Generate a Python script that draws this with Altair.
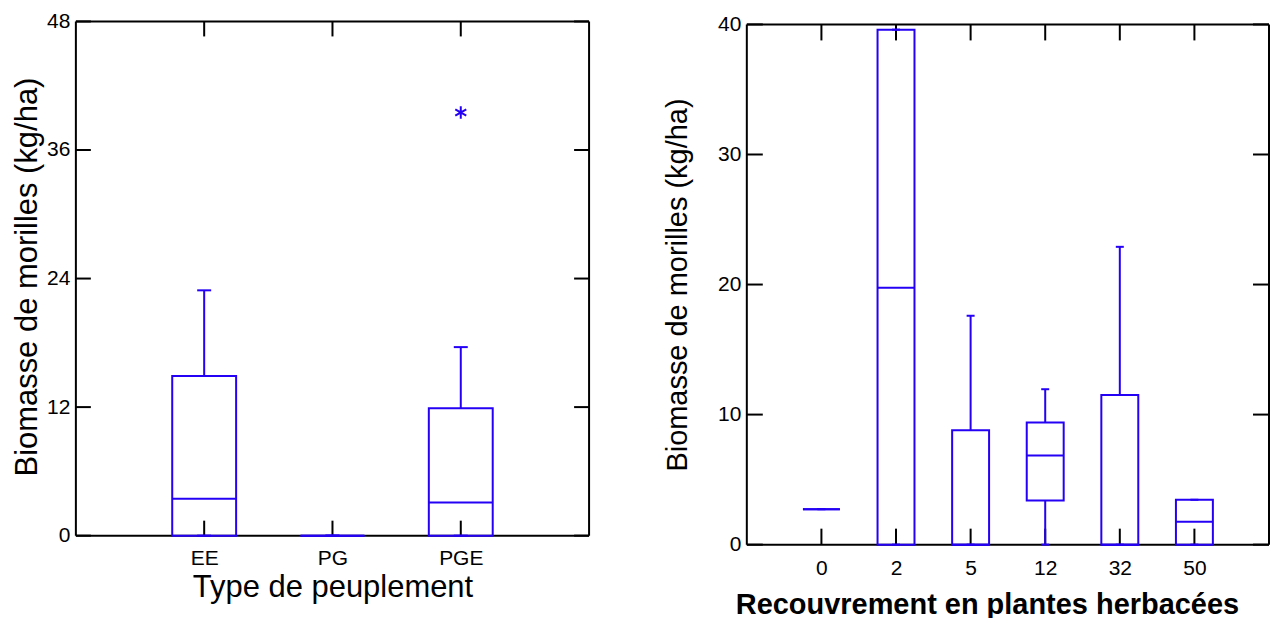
import altair as alt
import pandas as pd

BLUE = "#2400F5"
FONT = "Liberation Sans"

# ---------------- Left panel data ----------------
left_cats = ["EE", "PG", "PGE"]
left_min = [0.0, 0.0, 0.0]
left_q1 = [0.0, 0.0, 0.0]
left_med = [3.45, 0.0, 3.1]
left_q3 = [14.9, 0.0, 11.9]
left_max = [22.9, 0.0, 17.6]
left_out_cat = ["PGE"]
left_out_val = [39.5]
left_yticks = [0, 12, 24, 36, 48]

# ---------------- Right panel data ----------------
right_cats = ["0", "2", "5", "12", "32", "50"]
right_min = [2.73, 0.0, 0.0, 0.0, 0.0, 0.0]
right_q1 = [2.73, 0.0, 0.0, 3.4, 0.0, 0.0]
right_med = [2.73, 19.75, 0.0, 6.85, 0.0, 1.75]
right_q3 = [2.73, 39.6, 8.8, 9.4, 11.5, 3.45]
right_max = [2.73, 39.6, 17.6, 11.95, 22.9, 3.45]
right_out_cat = []
right_out_val = []
right_yticks = [0, 10, 20, 30, 40]

ASTERISK = "M0,-1L0,1M-0.87,-0.5L0.87,0.5M-0.87,0.5L0.87,-0.5"


def panel(cats, mins, q1s, meds, q3s, maxs, out_c, out_v, yticks, ymax,
          W, H, top_gap, box_w, cap_w, tick_len, xtitle, ytitle,
          lab_fs, x_lab_pad, y_lab_pad, x_title_fs, y_title_fs,
          x_title_pad, y_title_pad, x_title_weight, x_title_shift=0,
          y_title_shift=0):
    df = pd.DataFrame({"cat": cats, "lo": mins, "q1": q1s, "med": meds,
                       "q3": q3s, "hi": maxs})
    xscale = alt.Scale(type="point", padding=1, domain=cats)
    yscale = alt.Scale(domain=[0, ymax], nice=False, zero=True,
                       range=[H, top_gap])
    xaxis_kw = dict(title=xtitle, labelAngle=0, labelFontSize=lab_fs,
                    labelPadding=x_lab_pad, titleFontSize=x_title_fs,
                    titlePadding=x_title_pad, titleFontWeight=x_title_weight,
                    domain=False, ticks=False, tickSize=0, grid=False)
    if x_title_shift:
        xaxis_kw["titleX"] = W / 2 + x_title_shift
    xaxis = alt.Axis(**xaxis_kw)
    yaxis_kw = dict(title=ytitle, values=yticks, labelFontSize=lab_fs,
                    labelPadding=y_lab_pad, titleFontSize=y_title_fs,
                    titlePadding=y_title_pad, titleFontWeight="normal",
                    domain=False, ticks=False, tickSize=0, grid=False)
    if y_title_shift:
        yaxis_kw["titleY"] = (H + top_gap) / 2 + y_title_shift
    yaxis = alt.Axis(**yaxis_kw)

    def X():
        return alt.X("cat:N", sort=cats, scale=xscale, axis=xaxis)

    def Y(f):
        return alt.Y(f + ":Q", scale=yscale, axis=yaxis)

    base = alt.Chart(df)
    box = base.mark_bar(size=box_w, fillOpacity=0, stroke=BLUE,
                        strokeWidth=2).encode(x=X(), y=Y("q1"), y2="q3:Q")
    med = base.mark_tick(size=box_w, thickness=2, color=BLUE,
                         opacity=1).encode(x=X(), y=Y("med"))
    w_hi = base.mark_rule(color=BLUE, strokeWidth=2).encode(
        x=X(), y=Y("q3"), y2="hi:Q")
    w_lo = base.mark_rule(color=BLUE, strokeWidth=2).encode(
        x=X(), y=Y("lo"), y2="q1:Q")
    c_hi = base.mark_tick(size=cap_w, thickness=2, color=BLUE,
                          opacity=1).encode(x=X(), y=Y("hi"))
    c_lo = base.mark_tick(size=cap_w, thickness=2, color=BLUE,
                          opacity=1).encode(x=X(), y=Y("lo"))

    ydf = pd.DataFrame({"v": yticks})
    xdf = pd.DataFrame({"cat": cats})
    ext = pd.DataFrame({"lo": [0], "hi": [ymax]})
    # frame (drawn through the y scale so it sits on 0 and on the max)
    f_h = alt.Chart(pd.DataFrame({"v": [0, ymax]})).mark_rule(
        color="black", strokeWidth=2).encode(
        y=Y("v"), x=alt.value(0), x2=alt.value(W))
    f_l = alt.Chart(ext).mark_rule(color="black", strokeWidth=2).encode(
        y=Y("lo"), y2="hi:Q", x=alt.value(0))
    f_r = alt.Chart(ext).mark_rule(color="black", strokeWidth=2).encode(
        y=Y("lo"), y2="hi:Q", x=alt.value(W))
    # inward ticks on all four sides
    t_left = alt.Chart(ydf).mark_rule(color="black", strokeWidth=2).encode(
        y=Y("v"), x=alt.value(0), x2=alt.value(tick_len))
    t_right = alt.Chart(ydf).mark_rule(color="black", strokeWidth=2).encode(
        y=Y("v"), x=alt.value(W), x2=alt.value(W - tick_len))
    t_top = alt.Chart(xdf).mark_rule(color="black", strokeWidth=2).encode(
        x=X(), y=alt.value(top_gap), y2=alt.value(top_gap + tick_len))
    t_bot = alt.Chart(xdf).mark_rule(color="black", strokeWidth=2).encode(
        x=X(), y=alt.value(H), y2=alt.value(H - tick_len))

    layers = [f_h, f_l, f_r, t_left, t_right, t_top, t_bot,
              box, w_hi, w_lo, c_hi, c_lo, med]
    if len(out_c) > 0:
        odf = pd.DataFrame({"cat": out_c, "val": out_v})
        outl = alt.Chart(odf).mark_point(shape=ASTERISK, size=160, filled=False,
                                         stroke=BLUE, strokeWidth=2,
                                         opacity=1).encode(x=X(), y=Y("val"))
        layers.append(outl)
    return alt.layer(*layers).properties(
        width=W, height=H,
        view=alt.ViewBackground(strokeWidth=0))


left = panel(left_cats, left_min, left_q1, left_med, left_q3, left_max,
             left_out_cat, left_out_val, left_yticks, 48,
             W=514, H=515, top_gap=0, box_w=64, cap_w=14, tick_len=15,
             xtitle="Type de peuplement", ytitle="Biomasse de morilles (kg/ha)",
             lab_fs=21, x_lab_pad=12, y_lab_pad=6, x_title_fs=31,
             y_title_fs=31, x_title_pad=4, y_title_pad=3,
             x_title_weight="normal", y_title_shift=-2)

right = panel(right_cats, right_min, right_q1, right_med, right_q3, right_max,
              right_out_cat, right_out_val, right_yticks, 40,
              W=523, H=524, top_gap=3, box_w=37, cap_w=8, tick_len=16,
              xtitle="Recouvrement en plantes herbacées",
              ytitle="Biomasse de morilles (kg/ha)",
              lab_fs=21, x_lab_pad=13, y_lab_pad=6, x_title_fs=29,
              y_title_fs=29, x_title_pad=12, y_title_pad=25,
              x_title_weight="bold", x_title_shift=-21)

chart = alt.hconcat(left, right, spacing=73).properties(
    padding={"left": 11, "top": 10, "right": 0, "bottom": 0}
).configure(
    background="white"
).configure_view(
    strokeWidth=0
).configure_axis(
    labelFont=FONT, titleFont=FONT, labelColor="black", titleColor="black"
)

chart.save("out.html", embed_options={"renderer": "svg", "actions": False})
